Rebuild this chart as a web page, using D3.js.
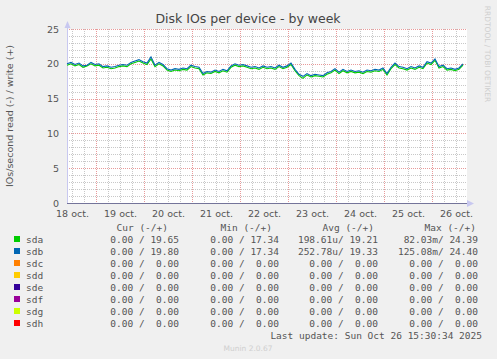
<!DOCTYPE html>
<html><head><meta charset="utf-8">
<script src="https://cdn.jsdelivr.net/npm/d3@7"></script>
<style>
html,body{margin:0;padding:0;background:#f0f0f0;}
svg{display:block;}
text{font-family:"DejaVu Sans",sans-serif;}
.mono{font-family:"DejaVu Sans Mono",monospace;white-space:pre;}
</style></head>
<body><svg id="c" width="497" height="359"></svg>
<script>
// ---- data ----
const title = "Disk IOs per device - by week";
const yLabel = "IOs/second read (-) / write (+)";
const dayLabels = ["18 oct.","19 oct.","20 oct.","21 oct.","22 oct.","23 oct.","24 oct.","25 oct.","26 oct."];
const yTicks = [0,5,10,15,20,25];
const devices = ["sda","sdb","sdc","sdd","sde","sdf","sdg","sdh"];
const deviceColors = ["#00cc00","#0066b3","#ff8000","#ffcc00","#330099","#990099","#ccff00","#ff0000"];
const curCol = ["0.00 / 19.65","0.00 / 19.80","0.00 /  0.00","0.00 /  0.00","0.00 /  0.00","0.00 /  0.00","0.00 /  0.00","0.00 /  0.00"];
const minCol = ["0.00 / 17.34","0.00 / 17.34","0.00 /  0.00","0.00 /  0.00","0.00 /  0.00","0.00 /  0.00","0.00 /  0.00","0.00 /  0.00"];
const avgCol = ["198.61u/ 19.21","252.78u/ 19.33","0.00 /  0.00","0.00 /  0.00","0.00 /  0.00","0.00 /  0.00","0.00 /  0.00","0.00 /  0.00"];
const maxCol = ["82.03m/ 24.39","125.08m/ 24.40","0.00 /  0.00","0.00 /  0.00","0.00 /  0.00","0.00 /  0.00","0.00 /  0.00","0.00 /  0.00"];
const headers = ["Cur (-/+)","Min (-/+)","Avg (-/+)","Max (-/+)"];
const lastUpdate = "Last update: Sun Oct 26 15:30:34 2025";
const sideText = "RRDTOOL / TOBI OETIKER";
const footer = "Munin 2.0.67";
// 2-hourly samples starting Oct 18 09:30
const sdbWrite = [20.0,20.2,19.9,20.1,19.7,19.8,20.2,19.9,20.0,19.6,19.7,19.5,19.6,19.8,19.9,19.8,20.2,20.4,20.6,20.3,
20.1,21.0,19.8,20.2,19.9,19.3,19.1,19.3,19.2,19.4,19.3,19.8,19.6,19.5,18.6,18.9,18.8,19.1,18.9,19.2,
19.0,19.7,20.0,19.8,19.9,19.7,19.5,19.6,19.4,19.7,19.5,19.6,19.4,19.8,19.5,19.7,20.1,19.2,18.5,18.2,
18.6,18.3,18.5,18.4,18.3,18.7,18.9,19.3,18.8,19.2,18.9,19.1,18.9,19.0,18.8,19.1,19.0,19.2,19.1,19.4,
18.6,19.5,20.1,19.6,19.5,19.3,19.6,19.4,19.7,19.5,20.3,20.1,20.7,19.6,19.8,19.3,19.4,19.2,19.4,20.0];
const sdaWrite = [19.8,20.0,19.7,19.9,19.5,19.7,20.0,19.7,19.8,19.4,19.5,19.3,19.4,19.6,19.7,19.6,20.0,20.2,20.4,20.1,
19.9,20.7,19.6,20.0,19.7,19.1,18.9,19.1,19.0,19.2,19.1,19.6,19.4,19.3,18.4,18.7,18.6,18.9,18.7,19.0,
18.8,19.5,19.8,19.6,19.7,19.5,19.3,19.4,19.2,19.5,19.3,19.4,19.2,19.6,19.3,19.5,19.9,19.0,18.3,17.9,
18.4,18.1,18.3,18.2,18.1,18.5,18.7,19.1,18.6,19.0,18.7,18.9,18.7,18.8,18.6,18.9,18.8,19.0,18.9,19.2,
18.4,19.3,19.9,19.4,19.3,19.1,19.4,19.2,19.5,19.3,20.1,19.9,20.5,19.4,19.6,19.1,19.2,19.0,19.2,19.8];

// ---- chart ----
const svg = d3.select("#c");
const H = 3600*1000;
const t0 = Date.UTC(2025,9,18,9,30);
const t1 = Date.UTC(2025,9,26,17,30);
const x = d3.scaleUtc().domain([t0,t1]).range([67,467]);
const y = d3.scaleLinear().domain([0,25]).range([203,29]);

svg.append("rect").attr("x",67).attr("y",29).attr("width",400).attr("height",174).attr("fill","#fff");

// minor grid
const g = svg.append("g").attr("shape-rendering","crispEdges");
d3.range(1,26).filter(v=>v%5!==0).forEach(v=>{
  g.append("line").attr("x1",67).attr("x2",467).attr("y1",Math.round(y(v))+0.5).attr("y2",Math.round(y(v))+0.5)
   .attr("stroke","#c8c8c8").attr("stroke-dasharray","1,1");
});
const sixH = d3.utcHour.every(6).range(new Date(t0), new Date(t1));
sixH.filter(d=>d.getUTCHours()!==0).forEach(d=>{
  g.append("line").attr("x1",Math.round(x(d))+0.5).attr("x2",Math.round(x(d))+0.5).attr("y1",29).attr("y2",203)
   .attr("stroke","#c8c8c8").attr("stroke-dasharray","1,1");
});
// major grid
yTicks.filter(v=>v>0).forEach(v=>{
  g.append("line").attr("x1",67).attr("x2",467).attr("y1",Math.round(y(v))+0.5).attr("y2",Math.round(y(v))+0.5)
   .attr("stroke","#e89a9a").attr("stroke-dasharray","1,1");
});
const days = d3.utcDay.range(new Date(t0), new Date(t1));
days.forEach(d=>{
  g.append("line").attr("x1",Math.round(x(d))+0.5).attr("x2",Math.round(x(d))+0.5).attr("y1",29).attr("y2",203)
   .attr("stroke","#e89a9a").attr("stroke-dasharray","1,1");
});

// axes
const yAxis = d3.axisLeft(y).tickValues(yTicks).tickSize(0).tickPadding(8);
const ya = svg.append("g").attr("transform","translate(67,0)").call(yAxis);
ya.select(".domain").remove();
ya.selectAll("text").attr("fill","#555").style("font-size","9.5px").style("font-family","DejaVu Sans");

const noons = d3.utcDay.range(new Date(Date.UTC(2025,9,18)), new Date(t1)).map(d=>new Date(+d+12*H));
const xAxis = d3.axisBottom(x).tickValues(noons).tickSize(0).tickPadding(7)
  .tickFormat((d,i)=>dayLabels[i]);
const xa = svg.append("g").attr("transform","translate(0,203)").call(xAxis);
xa.select(".domain").remove();
xa.selectAll("text").attr("fill","#555").style("font-size","9.5px").style("font-family","DejaVu Sans");

// axis lines and arrows
svg.append("line").attr("x1",67.5).attr("x2",67.5).attr("y1",24).attr("y2",203).attr("stroke","#c8c8f0");
svg.append("path").attr("d","M64.5,28 L67.5,21 L70.5,28 Z").attr("fill","#c8c8f0");
svg.append("path").attr("d","M467,200 L474,203.5 L467,207 Z").attr("fill","#c8c8f0");

// data lines
const times = sdbWrite.map((_,i)=>t0 + i*2*H);
const line = d3.line().x((d,i)=>x(times[i])).y(d=>y(d));
svg.append("path").datum(sdaWrite).attr("d",line).attr("fill","none").attr("stroke",deviceColors[0]).attr("stroke-width",1.1);
svg.append("path").datum(sdbWrite).attr("d",line).attr("fill","none").attr("stroke",deviceColors[1]).attr("stroke-width",1.1);
svg.append("line").attr("x1",67).attr("x2",467).attr("y1",y(0)+0.5).attr("y2",y(0)+0.5).attr("stroke","#74749a").attr("stroke-width",1);

// title
svg.append("text").attr("x",248).attr("y",23).attr("text-anchor","middle").attr("fill","#444")
  .style("font-size","12.5px").text(title);
// y label
svg.append("text").attr("transform","translate(13,116) rotate(-90)").attr("text-anchor","middle").attr("fill","#555")
  .style("font-size","9.5px").text(yLabel);
// side text
svg.append("text").attr("transform","translate(485,54) rotate(90)").attr("text-anchor","middle").attr("fill","#cfcfcf")
  .style("font-size","7.5px").text(sideText);

// legend
const colX = [168,272,374,476];
headers.forEach((h,i)=>{
  svg.append("text").attr("class","mono").attr("x",colX[i]).attr("y",231).attr("text-anchor","end")
    .attr("fill","#555").style("font-size","9.5px").text(h);
});
const valX = [179,279,378,478];
const cols = [curCol,minCol,avgCol,maxCol];
devices.forEach((dv,i)=>{
  const by = 243 + i*12;
  svg.append("rect").attr("x",14).attr("y",by-7).attr("width",6).attr("height",6).attr("fill",deviceColors[i]);
  svg.append("text").attr("class","mono").attr("x",26).attr("y",by).attr("fill","#555").style("font-size","9.5px").text(dv);
  cols.forEach((c,j)=>{
    svg.append("text").attr("class","mono").attr("x",valX[j]).attr("y",by).attr("text-anchor","end")
      .attr("fill","#555").style("font-size","9.5px").text(c[i]);
  });
});
svg.append("text").attr("class","mono").attr("x",482).attr("y",339).attr("text-anchor","end")
  .attr("fill","#555").style("font-size","9.5px").text(lastUpdate);
svg.append("text").attr("x",248).attr("y",351).attr("text-anchor","middle").attr("fill","#cfcfcf")
  .style("font-size","7.5px").text(footer);
</script></body></html>
